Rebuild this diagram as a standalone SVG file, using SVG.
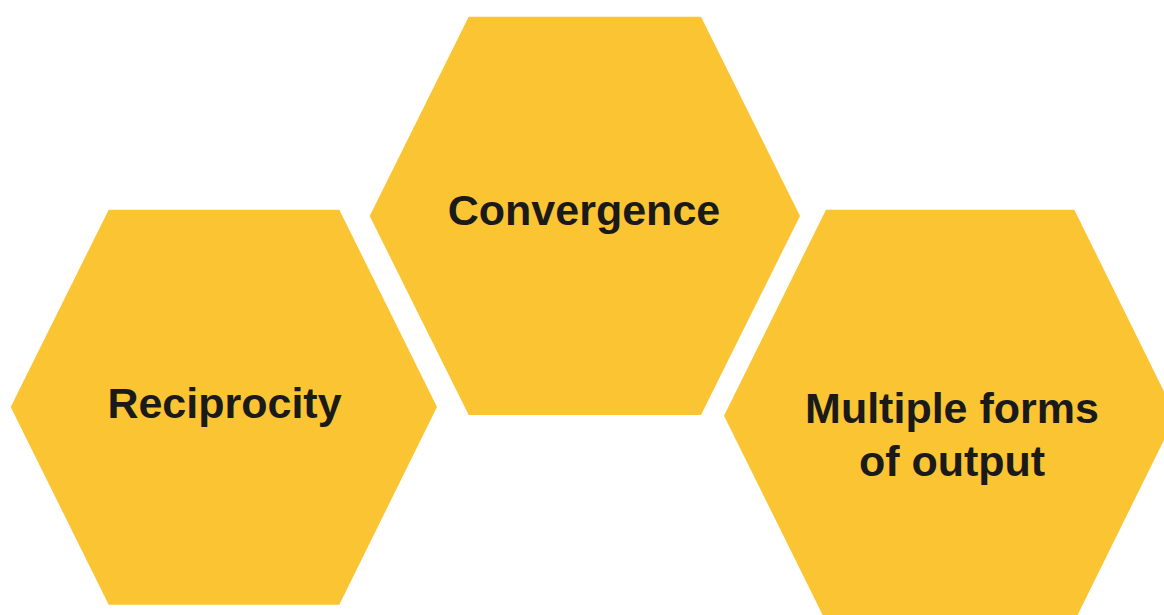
<svg xmlns="http://www.w3.org/2000/svg" width="1164" height="615" viewBox="0 0 1164 615">
  <style>
    .hex { fill: #FBC433; }
    .label { font-family: "Liberation Sans", Arial, sans-serif; font-weight: bold; font-size: 43px; fill: #1A1A1A; text-anchor: middle; }
  </style>
  <rect width="1164" height="615" fill="#FFFFFF"/>
  <g id="node-reciprocity">
    <polygon class="hex" points="10.7,407 108.7,209.7 339.3,209.7 437,407 339.3,604.7 108.7,604.7"/>
    <text class="label" x="224.5" y="418">Reciprocity</text>
  </g>
  <g id="node-convergence">
    <polygon class="hex" points="369.7,216 468.7,16.7 701,16.7 800,216 701,415 468.7,415"/>
    <text class="label" x="584" y="225">Convergence</text>
  </g>
  <g id="node-multiple-forms">
    <polygon class="hex" points="724,415.7 826,209.7 1074.3,209.7 1176,415.7 1074.3,621.7 826,621.7"/>
    <text class="label" x="952" y="423">Multiple forms</text>
    <text class="label" x="952" y="476">of output</text>
  </g>
  <g id="connectors"></g>
</svg>
